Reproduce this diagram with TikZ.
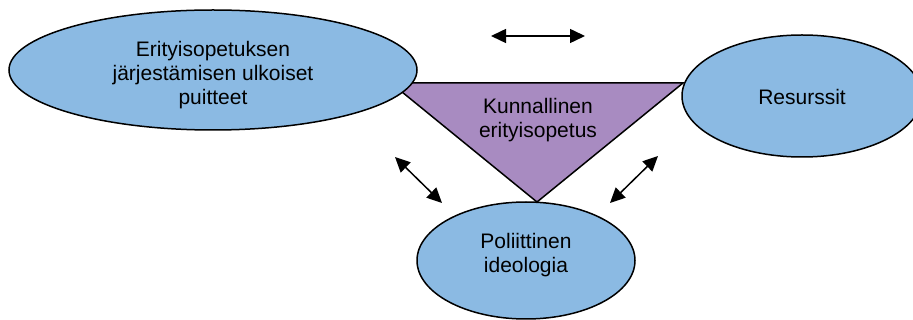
\documentclass[tikz,border=0pt]{standalone}
\usepackage{fontspec}
\setmainfont{Liberation Sans}
\usetikzlibrary{shapes.geometric,arrows.meta}
\definecolor{ovalblue}{RGB}{139,186,227}
\definecolor{trianglepurple}{RGB}{168,139,193}
\begin{document}
\begin{tikzpicture}[x=1pt,y=-1pt,
  oval/.style={ellipse,draw=black,line width=1.5pt,fill=ovalblue,inner sep=0pt},
  label text/.style={align=center,inner sep=0pt,font=\fontsize{21}{24}\selectfont},
  link/.style={line width=1.5pt,{Triangle[length=15pt,width=14pt]}-{Triangle[length=15pt,width=14pt]}}]
\useasboundingbox (0,0) rectangle (913,320);
% central triangle
\coordinate (tl) at (391,83);
\coordinate (tr) at (683,83);
\coordinate (tb) at (537,202);
\draw[line width=1.5pt,fill=trianglepurple,line join=miter] (tl) -- (tr) -- (tb) -- cycle;
\node[label text] (core) at (538,120) {Kunnallinen\\erityisopetus};
% surrounding ovals
\node[oval,minimum width=408pt,minimum height=120pt] (frame) at (213,70) {};
\node[label text] (frametext) at (213,75) {Erityisopetuksen\\järjestämisen ulkoiset\\puitteet};
\node[oval,minimum width=240pt,minimum height=122pt] (res) at (802,96) {};
\node[label text] (restext) at (802,97) {Resurssit};
\node[oval,minimum width=218pt,minimum height=117pt] (pol) at (526,260.5) {};
\node[label text] (poltext) at (526,255) {Poliittinen\\ideologia};
% interaction arrows
\coordinate (ha) at (491,36);
\coordinate (hb) at (585,36);
\coordinate (la) at (395,157);
\coordinate (lb) at (442,203);
\coordinate (ra) at (610,203);
\coordinate (rb) at (658,156);
\draw[link] (ha) -- (hb);
\draw[link] (la) -- (lb);
\draw[link] (ra) -- (rb);
\end{tikzpicture}
\end{document}
